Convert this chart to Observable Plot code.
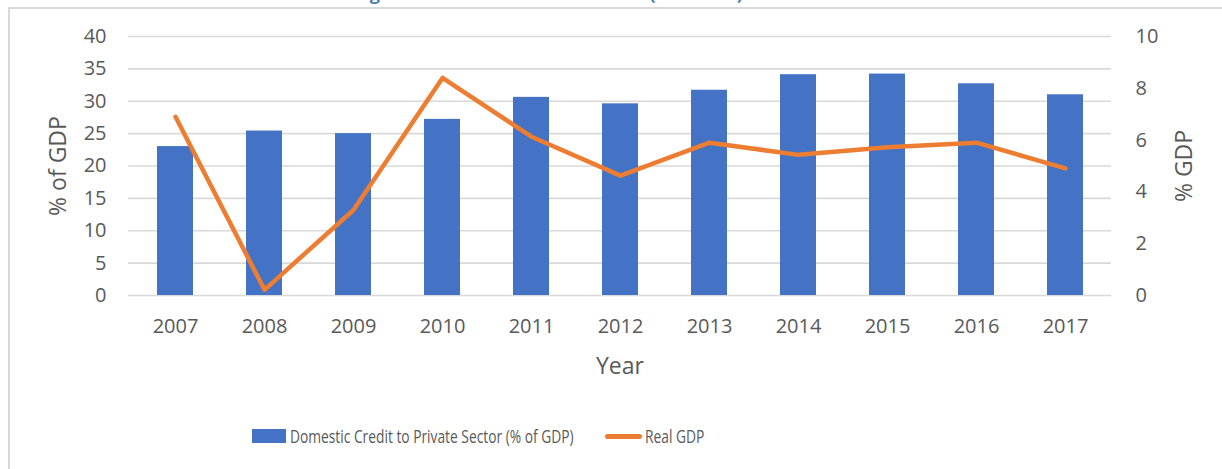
<!DOCTYPE html>
<html>
<head>
<meta charset="utf-8">
<script src="https://cdn.jsdelivr.net/npm/d3@7"></script>
<script src="https://cdn.jsdelivr.net/npm/@observablehq/plot@0.6"></script>
<style>
  html, body { margin: 0; padding: 0; background: #fff; }
  #wrap { position: relative; width: 1222px; height: 469px; overflow: hidden; font-family: "Open Sans", sans-serif; }
  #frame { position: absolute; left: 8px; top: 7px; width: 1300px; height: 600px; border-left: 2px solid #d9d9d9; border-top: 2px solid #d9d9d9; box-sizing: border-box; }
  #title { position: absolute; left: 0; width: 1222px; top: -19px; text-align: center; font-weight: bold; font-size: 18px; color: #4a7ebb; white-space: nowrap; }
  #chart { position: absolute; left: 0; top: 0; }
  #chart svg [aria-label="y-axis label"] text, #chart svg [aria-label="x-axis label"] text { font-size: 23px; }
  #legend { position: absolute; top: 424px; left: 0; width: 1222px; height: 24px; font-size: 18.5px; color: #595959; }
  .sw { position: absolute; }
  .lt { position: absolute; top: 0; line-height: 24px; white-space: nowrap; transform: scaleX(0.745); transform-origin: 0 50%; }
</style>
</head>
<body>
<div id="wrap">
  <div id="title">Figure 3: Credit to Private Sector (% of GDP) and Real GDP</div>
  <div id="frame"></div>
  <div id="chart"></div>
  <div id="legend"></div>
</div>
<script>
const years = ["2007","2008","2009","2010","2011","2012","2013","2014","2015","2016","2017"];
const credit = [23.0, 25.4, 25.0, 27.2, 30.6, 29.6, 31.7, 34.1, 34.2, 32.7, 31.0];
const realGdp = [6.9, 0.22, 3.3, 8.4, 6.13, 4.63, 5.9, 5.43, 5.72, 5.9, 4.91];
const leftTicks = [0, 5, 10, 15, 20, 25, 30, 35, 40];
const rightTicks = [0, 2, 4, 6, 8, 10];
const seriesNames = ["Domestic Credit to Private Sector (% of GDP)", "Real GDP"];
const colors = ["#4472c4", "#ed7d31"];

const ratio = 40 / 10; // left axis max / right axis max
const data = years.map((y, i) => ({year: y, credit: credit[i], gdp: realGdp[i]}));

const chart = Plot.plot({
  width: 1222,
  height: 385,
  marginLeft: 128,
  marginRight: 111,
  marginTop: 36,
  marginBottom: 90,
  style: {fontFamily: "Open Sans, sans-serif", fontSize: "20px", color: "#595959", background: "transparent", overflow: "visible"},
  x: {domain: years, paddingInner: 0.6, paddingOuter: 0.3, align: 0.5},
  y: {domain: [0, 40]},
  marks: [
    Plot.ruleY(leftTicks, {stroke: "#d9d9d9", strokeWidth: 1.6}),
    Plot.barY(data, {x: "year", y: "credit", fill: colors[0]}),
    Plot.lineY(data, {x: "year", y: d => d.gdp * ratio, stroke: colors[1], strokeWidth: 4.5, strokeLinejoin: "round", strokeLinecap: "round"}),
    Plot.axisY(leftTicks, {anchor: "left", tickSize: 0, tickPadding: 22, label: "% of GDP", labelAnchor: "center", labelArrow: "none", labelOffset: 79}),
    Plot.axisY(rightTicks.map(t => t * ratio), {anchor: "right", tickSize: 0, tickPadding: 24, tickFormat: d => String(d / ratio), label: "% GDP", labelAnchor: "center", labelArrow: "none", labelOffset: 80}),
    Plot.axisX({tickSize: 0, tickPadding: 23, label: "Year", labelAnchor: "center", labelArrow: "none", labelOffset: 78})
  ]
});
document.getElementById("chart").appendChild(chart);

const legend = document.getElementById("legend");
legend.innerHTML = `
  <div class="sw" style="left:252px; top:5px; width:34px; height:14px; background:${colors[0]}"></div>
  <div class="lt" style="left:290px">${seriesNames[0]}</div>
  <div class="sw" style="left:605px; top:10px; width:37px; height:5px; border-radius:3px; background:${colors[1]}"></div>
  <div class="lt" style="left:645px">${seriesNames[1]}</div>
`;
</script>
</body>
</html>
